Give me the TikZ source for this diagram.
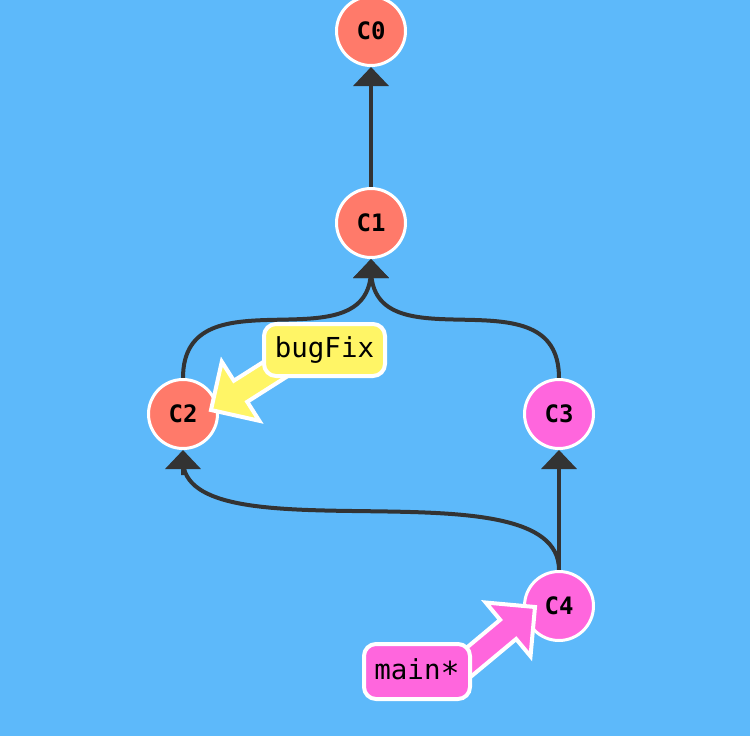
\documentclass[tikz,border=0pt]{standalone}
\usepackage{fontspec}
\newfontfamily\monofont{DejaVu Sans Mono}
\usetikzlibrary{arrows.meta}
\pgfdeclarelayer{background}
\pgfdeclarelayer{canvas}
\pgfsetlayers{canvas,background,main}
\definecolor{bgblue}{RGB}{93,185,250}
\definecolor{salmon}{RGB}{255,122,106}
\definecolor{pinkc}{RGB}{255,102,221}
\definecolor{yellowc}{RGB}{255,245,102}
\definecolor{edgegray}{RGB}{51,51,51}
\tikzset{
  commit/.style={circle, draw=white, line width=3pt, minimum size=69pt, inner sep=0pt,
    font=\monofont\bfseries\fontsize{24}{24}\selectfont},
  oldc/.style={commit, fill=salmon},
  newc/.style={commit, fill=pinkc},
  parent/.style={draw=edgegray, line width=4pt, -{Triangle[width=35pt,length=19pt]}},
  branchlabel/.style={draw=white, line width=4pt, rounded corners=12pt, inner sep=0pt,
    font=\monofont\fontsize{27.5}{27.5}\selectfont},
  blockarrow/.style={draw=white, line width=4pt, line join=miter},
}
\begin{document}
\begin{tikzpicture}[x=1pt,y=-1pt]
\begin{pgfonlayer}{canvas}
\fill[bgblue] (0,0) rectangle (750,736);
\end{pgfonlayer}
\useasboundingbox (0,0) rectangle (750,736);
% commits
\node[oldc] (c0) at (371,31) {C0};
\node[oldc] (c1) at (371,223) {C1};
\node[oldc] (c2) at (183,414) {C2};
\node[newc] (c3) at (559,414) {C3};
\node[newc] (c4) at (559,606) {C4};
% parent edges
\begin{pgfonlayer}{background}
\draw[parent] (c1.north) -- (c0.south);
\draw[parent] (c2.north) .. controls +(0,-110) and +(0,100) .. ([yshift=-10pt]c1.south)
  ([yshift=-25pt]c1.south) -- (c1.south);
\draw[parent] (c3.north) .. controls +(0,-110) and +(0,100) .. ([yshift=-10pt]c1.south)
  ([yshift=-25pt]c1.south) -- (c1.south);
\draw[parent] (c4.north) -- (c3.south);
\draw[parent] (c4.north) .. controls +(0,-110) and +(0,100) .. ([yshift=-10pt]c2.south)
  ([yshift=-25pt]c2.south) -- (c2.south);
\end{pgfonlayer}
% branch arrows
\coordinate (bugtip) at (211,410);
\coordinate (maintip) at (535,607);
\begin{scope}[shift={(bugtip)}, rotate=212.4]
  \filldraw[blockarrow, fill=yellowc] (0,0) -- (-35,35) -- (-35,12.5) -- (-110,12.5) -- (-110,-12.5) -- (-35,-12.5) -- (-35,-35) -- cycle;
\end{scope}
\begin{scope}[shift={(maintip)}, rotate=39.8]
  \filldraw[blockarrow, fill=pinkc] (0,0) -- (-35,35) -- (-35,12.5) -- (-110,12.5) -- (-110,-12.5) -- (-35,-12.5) -- (-35,-35) -- cycle;
\end{scope}
% branch labels
\node[branchlabel, fill=yellowc, minimum width=121pt, minimum height=52pt] (bugfix) at (324.5,350) {bugFix};
\node[branchlabel, fill=pinkc, minimum width=106pt, minimum height=55pt] (main) at (417,671.5) {main\raisebox{-5pt}{\scalebox{1.15}{*}}};
\end{tikzpicture}
\end{document}
